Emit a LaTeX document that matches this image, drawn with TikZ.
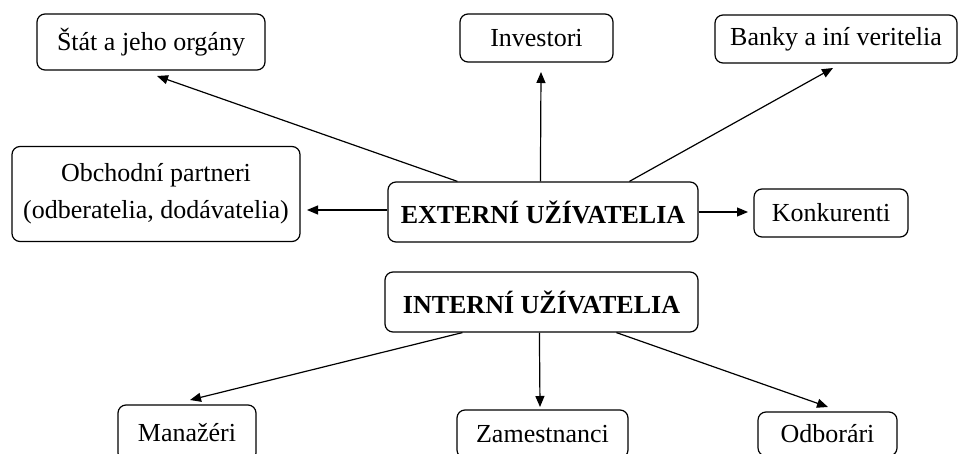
\documentclass[tikz,border=0pt]{standalone}
\usepackage{fontspec}
\setmainfont{Liberation Serif}
\usetikzlibrary{arrows.meta,calc}
\begin{document}
\begin{tikzpicture}[x=1pt,y=-1pt,
 box/.style={draw,line width=1.2pt,rounded corners=8pt,inner sep=0pt,align=center,font=\fontsize{26}{37}\selectfont},
 bbox/.style={box,font=\fontsize{26}{37}\selectfont\bfseries},
 arr/.style={line width=1.2pt,-{Triangle[length=11pt,width=9pt]}}]
\useasboundingbox (0,0) rectangle (960,454);
\clip (0,0) rectangle (960,454);
\node[box,minimum width=228pt,minimum height=56pt] (stat) at (151,42) {Štát a jeho orgány};
\node[box,minimum width=153pt,minimum height=48pt] (inv) at (536.5,38) {Investori};
\node[box,minimum width=242pt,minimum height=48pt] (bank) at (836,39) {Banky a iní veritelia};
\node[box,minimum width=288pt,minimum height=95pt] (obch) at (156,194) {Obchodní partneri\\(odberatelia, dodávatelia)};
\node[bbox,minimum width=310pt,minimum height=60pt] (ext) at (543,212) {EXTERNÍ UŽÍVATELIA};
\node[box,minimum width=154pt,minimum height=48pt] (konk) at (831,213) {Konkurenti};
\node[bbox,minimum width=313pt,minimum height=60pt] (int) at (541.5,302) {INTERNÍ UŽÍVATELIA};
\node[box,minimum width=138pt,minimum height=56pt] (man) at (187,433) {Manažéri};
\node[box,minimum width=171pt,minimum height=48pt] (zam) at (542.5,434) {Zamestnanci};
\node[box,minimum width=139pt,minimum height=44pt] (odb) at (827.5,434) {Odborári};
\coordinate (tStat) at (157,76);
\coordinate (tInv) at (541,72);
\coordinate (tBank) at (833,68);
\coordinate (tObch) at (307,210);
\coordinate (tKonk) at (748,212);
\coordinate (tMan) at (190,400);
\coordinate (tZam) at (540,407);
\coordinate (tOdb) at (828,407);
\draw[arr] ($(ext.north west)+(70,0)$) -- (tStat);
\draw[arr] ($(ext.north west)+(153,0)$) -- (tInv);
\draw[arr] ($(ext.north west)+(242,0)$) -- (tBank);
\draw[arr] ($(ext.west)+(0,-2)$) -- (tObch);
\draw[arr] (ext.east) -- (tKonk);
\draw[arr] ($(int.south west)+(78,0)$) -- (tMan);
\draw[arr] ($(int.south west)+(155,0)$) -- (tZam);
\draw[arr] ($(int.south west)+(232,0)$) -- (tOdb);
\end{tikzpicture}
\end{document}
